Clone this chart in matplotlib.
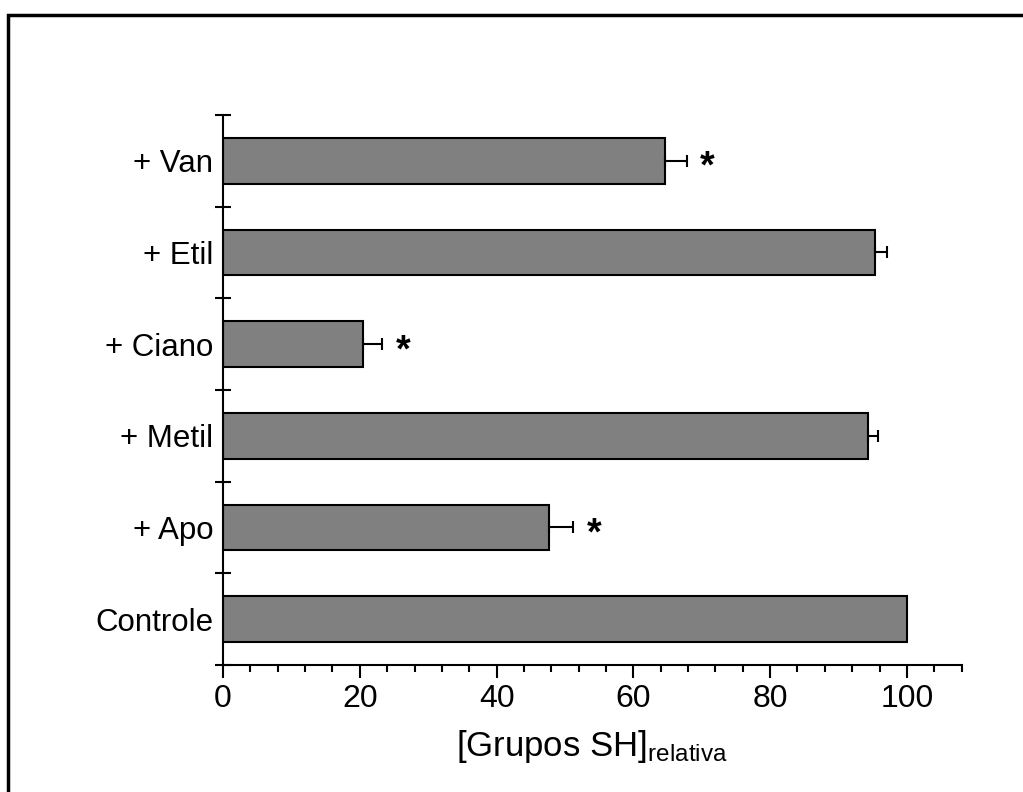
import matplotlib
matplotlib.use("Agg")
import matplotlib.pyplot as plt
from matplotlib.ticker import MultipleLocator, FixedLocator
from matplotlib.patches import Rectangle

categories = ["Controle", "+ Apo", "+ Metil", "+ Ciano", "+ Etil", "+ Van"]
values = [100.0, 47.7, 94.3, 20.4, 95.3, 64.6]
errors = [0.0, 3.5, 1.5, 2.9, 1.8, 3.2]
significant = [False, True, False, True, False, True]

plt.rcParams['font.family'] = ['Liberation Sans', 'DejaVu Sans']
plt.rcParams['mathtext.fontset'] = 'custom'
plt.rcParams['mathtext.rm'] = 'Liberation Sans'
plt.rcParams['mathtext.it'] = 'Liberation Sans'

fig = plt.figure(figsize=(10.23, 7.92), dpi=100)
ax = fig.add_axes([0.218, 0.1604, 0.722, 0.6944])

ypos = list(range(len(categories)))
ax.barh(ypos, values, height=0.5, color='#808080', edgecolor='black', linewidth=1.5, zorder=2)
for y, v, e in zip(ypos, values, errors):
    if e > 0:
        ax.errorbar(v, y, xerr=[[0], [e]], fmt='none', ecolor='black', elinewidth=1.5,
                    capsize=4, capthick=1.5, zorder=3)
for y, v, e, s in zip(ypos, values, errors, significant):
    if s:
        ax.annotate('*', xy=(v + e, y), xytext=(15, -5), textcoords='offset points',
                    ha='center', va='center', fontsize=27, fontweight='bold', zorder=4)

ax.set_xlim(0, 108)
ax.set_ylim(-0.5, len(categories) - 0.5)

ax.xaxis.set_major_locator(FixedLocator([0, 20, 40, 60, 80, 100]))
ax.xaxis.set_minor_locator(MultipleLocator(4))
ax.tick_params(axis='x', which='major', direction='out', length=9, width=1.5, labelsize=23, pad=5)
ax.tick_params(axis='x', which='minor', direction='out', length=5, width=1.5)

ax.yaxis.set_major_locator(FixedLocator([i + 0.5 for i in range(-1, len(categories))]))
ax.yaxis.set_major_formatter(plt.NullFormatter())
ax.yaxis.set_minor_locator(FixedLocator(ypos))
ax.set_yticklabels(categories, minor=True)
ax.tick_params(axis='y', which='major', direction='inout', length=12, width=1.5)
ax.tick_params(axis='y', which='minor', direction='in', length=2, width=1, labelsize=22.5, pad=7)

for sp in ['top', 'right']:
    ax.spines[sp].set_visible(False)
for sp in ['left', 'bottom']:
    ax.spines[sp].set_linewidth(1.5)

ax.set_xlabel(r'[Grupos SH]$_{\mathregular{relativa}}$', fontsize=25, labelpad=10)

fig.patches.append(Rectangle((8 / 1023, -0.02), 1.05, 1 - 15 / 792 + 0.02,
                             transform=fig.transFigure, fill=False,
                             edgecolor='black', linewidth=2.5, zorder=10))

fig.savefig('out.png', dpi=100)
